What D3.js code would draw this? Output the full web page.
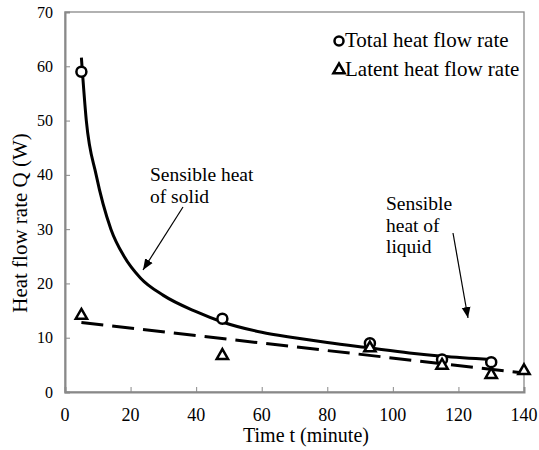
<!DOCTYPE html>
<html><head><meta charset="utf-8">
<script src="https://cdn.jsdelivr.net/npm/d3@7"></script>
<style>
body{margin:0;background:#fff;}
</style></head>
<body><svg id="c" width="539" height="450"></svg>
<script>
// Data
const totalT = [5, 48, 93, 115, 130];
const totalQ = [59, 13.5, 9, 6, 5.5];
const latentT = [5, 48, 93, 115, 130, 140];
const latentQ = [14.1, 6.7, 8.1, 4.9, 3.2, 3.9];
// trend curve (solid)
const solidT = [5, 6.5, 9.5, 14, 18, 23, 30, 40, 48, 60, 70, 80, 93, 105, 115, 130];
const solidQ = [61.6, 50, 40, 30, 25, 21, 17.8, 14.8, 12.9, 11, 10, 9.1, 8.1, 7.2, 6.6, 6.0];
// trend line (dashed)
const dashT = [5, 140];
const dashQ = [12.8, 3.5];
const xTicks = [0, 20, 40, 60, 80, 100, 120, 140];
const yTicks = [0, 10, 20, 30, 40, 50, 60, 70];

const FONT = "'Liberation Serif', 'Times New Roman', Tinos, 'DejaVu Serif', serif";
const svg = d3.select("#c");
const L = 65, R = 524, T = 12, B = 392;
const x = d3.scaleLinear().domain([0, 140]).range([L, R]);
const y = d3.scaleLinear().domain([0, 70]).range([B, T]);
const grey = "#898989";
function txt(sel) { return sel.attr("font-family", FONT).attr("fill", "#000"); }

// frame
svg.append("rect").attr("x", L).attr("y", T).attr("width", R - L).attr("height", B - T)
  .attr("fill", "none").attr("stroke", grey).attr("stroke-width", 1.3);

// x axis
const gx = svg.append("g").attr("transform", `translate(0,${B})`)
  .call(d3.axisTop(x).tickValues(xTicks).tickSize(5).tickFormat(() => ""));
gx.select(".domain").attr("stroke", grey).attr("stroke-width", 2);
gx.selectAll(".tick line").attr("stroke", grey).attr("stroke-width", 1);
txt(svg.append("g").selectAll("text").data(xTicks).join("text"))
  .attr("x", d => x(d)).attr("y", 421).attr("text-anchor", "middle")
  .attr("font-size", 18).text(d => d);

// y axis
const gy = svg.append("g").attr("transform", `translate(${L},0)`)
  .call(d3.axisRight(y).tickValues(yTicks).tickSize(5).tickFormat(() => ""));
gy.select(".domain").attr("stroke", grey).attr("stroke-width", 2);
gy.selectAll(".tick line").attr("stroke", grey).attr("stroke-width", 1);
txt(svg.append("g").selectAll("text").data(yTicks).join("text"))
  .attr("x", 53).attr("y", d => y(d) + 5.5).attr("text-anchor", "end")
  .attr("font-size", 16).text(d => d);

// axis titles
txt(svg.append("text")).attr("x", 306).attr("y", 442).attr("text-anchor", "middle")
  .attr("font-size", 20).text("Time t (minute)");
txt(svg.append("text")).attr("transform", `translate(27,${223}) rotate(-90)`).attr("text-anchor", "middle")
  .attr("font-size", 21).text("Heat flow rate Q (W)");

// lines
const line = d3.line().x(d => x(d[0])).y(d => y(d[1]));
svg.append("path").datum(solidT.map((t, i) => [t, solidQ[i]]))
  .attr("d", line.curve(d3.curveMonotoneX)).attr("fill", "none").attr("stroke", "#000").attr("stroke-width", 3);
svg.append("path").datum(dashT.map((t, i) => [t, dashQ[i]]))
  .attr("d", d3.line().x(d => x(d[0])).y(d => y(d[1]))).attr("fill", "none")
  .attr("stroke", "#000").attr("stroke-width", 3).attr("stroke-dasharray", "22,9");

// markers
svg.append("g").selectAll("circle").data(totalT.map((t, i) => [t, totalQ[i]])).join("circle")
  .attr("cx", d => x(d[0])).attr("cy", d => y(d[1])).attr("r", 5)
  .attr("fill", "#fff").attr("stroke", "#000").attr("stroke-width", 2.5);
const tri = d3.symbol().type(d3.symbolTriangle).size(55);
svg.append("g").selectAll("path").data(latentT.map((t, i) => [t, latentQ[i]])).join("path")
  .attr("transform", d => `translate(${x(d[0])},${y(d[1])})`).attr("d", tri())
  .attr("fill", "#fff").attr("stroke", "#000").attr("stroke-width", 2.5);

// legend
svg.append("circle").attr("cx", 339).attr("cy", 41).attr("r", 4.5)
  .attr("fill", "#fff").attr("stroke", "#000").attr("stroke-width", 2.5);
txt(svg.append("text")).attr("x", 345).attr("y", 47).attr("font-size", 21).text("Total heat flow rate");
svg.append("path").attr("transform", "translate(339,70)").attr("d", tri())
  .attr("fill", "#fff").attr("stroke", "#000").attr("stroke-width", 2.5);
txt(svg.append("text")).attr("x", 345).attr("y", 76).attr("font-size", 21).text("Latent heat flow rate");

// annotations
const defs = svg.append("defs");
defs.append("marker").attr("id", "ah").attr("viewBox", "0 0 10 10").attr("refX", 10).attr("refY", 5)
  .attr("markerWidth", 11).attr("markerHeight", 11).attr("markerUnits", "userSpaceOnUse").attr("orient", "auto")
  .append("path").attr("d", "M0,1 L10,5 L0,9 Z").attr("fill", "#000");
function ann(lines, tx, ty, x1, y1, x2, y2) {
  const t = txt(svg.append("text")).attr("font-size", 19.5);
  lines.forEach((s, i) => t.append("tspan").attr("x", tx).attr("y", ty + i * 21.5).text(s));
  svg.append("line").attr("x1", x1).attr("y1", y1).attr("x2", x2).attr("y2", y2)
    .attr("stroke", "#000").attr("stroke-width", 1.2).attr("marker-end", "url(#ah)");
}
ann(["Sensible heat", "of solid"], 150, 181, 183, 207, 143, 270);
ann(["Sensible", "heat of", "liquid"], 386, 210, 453, 233, 468, 318);
</script></body></html>
